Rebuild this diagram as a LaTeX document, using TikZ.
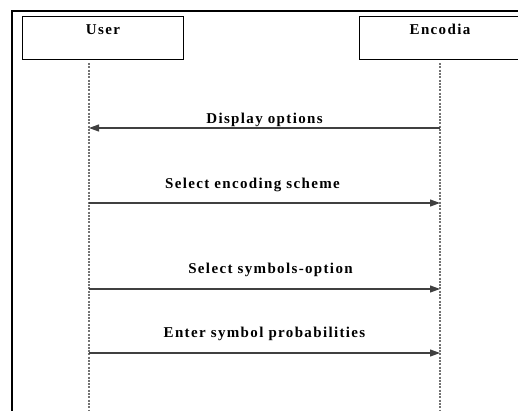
\documentclass[tikz,border=0pt]{standalone}
\usepackage{fontspec}
\setmainfont{Liberation Serif}[LetterSpace=9]
\usetikzlibrary{arrows.meta}

\begin{document}
\begin{tikzpicture}[x=1pt,y=-1pt]
	\tikzstyle{every node}=[font=\fontsize{15}{17}\selectfont\bfseries, inner sep=0pt]
	\tikzstyle{actor}=[draw, line width=.9pt, minimum width=161pt, text height=18pt, text depth=25pt]
	\tikzstyle{lifeline}=[draw=black!55, line width=1.5pt, dash pattern=on 2pt off 1.3pt]
	\tikzstyle{msg}=[draw=black!75, line width=1.1pt, -{Triangle[length=10pt,width=7pt]}]
	\useasboundingbox (0,0) rectangle (518,410);
	\draw[line width=2.5pt] (12,420) -- (12,11) -- (530,11);
	\node (user) [actor] at (103,38) {User};
	\node (encodia) [actor] at (440,38) {Encodia};
	\coordinate (u0) at (89,63);
	\coordinate (u9) at (89,412);
	\coordinate (e0) at (440,63);
	\coordinate (e9) at (440,412);
	\draw[lifeline] (u0) -- (u9);
	\draw[lifeline] (e0) -- (e9);
	\coordinate (u1) at (89,128);
	\coordinate (e1) at (440,128);
	\coordinate (u2) at (89,203);
	\coordinate (e2) at (440,203);
	\coordinate (u3) at (89,289);
	\coordinate (e3) at (440,289);
	\coordinate (u4) at (89,353);
	\coordinate (e4) at (440,353);
	\draw[msg] (e1) -- node[anchor=base, yshift=5pt] {Display options} (u1);
	\draw[msg] (u2) -- node[anchor=base, yshift=15pt, xshift=-12pt] {Select encoding scheme} (e2);
	\draw[msg] (u3) -- node[anchor=base, yshift=16pt, xshift=6pt] {Select symbols-option} (e3);
	\draw[msg] (u4) -- node[anchor=base, yshift=16pt] {Enter symbol probabilities} (e4);
\end{tikzpicture}
\end{document}
